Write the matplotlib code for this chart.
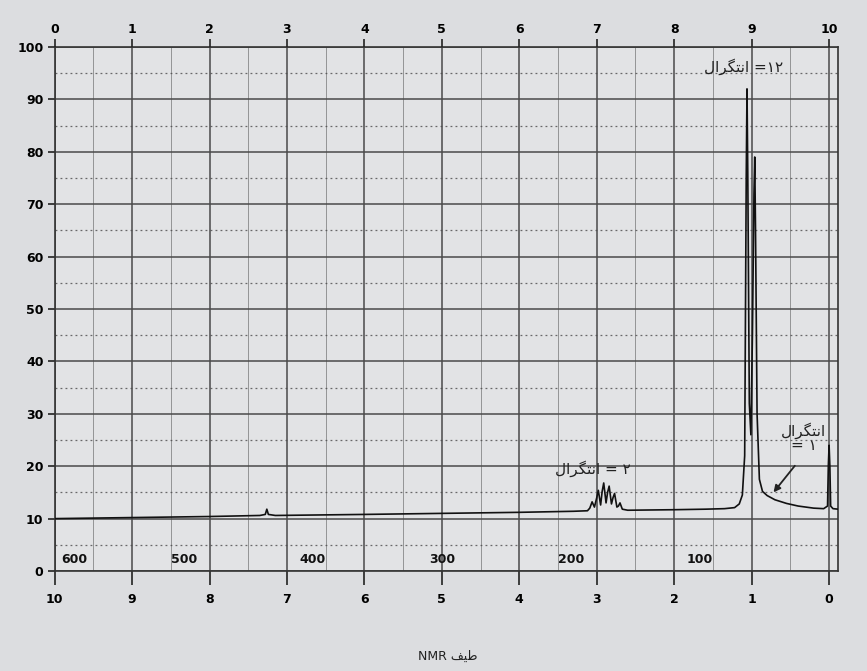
import numpy as np
import matplotlib
matplotlib.use('Agg')
import matplotlib.pyplot as plt

# ========================
# data
# ========================
ppm = [10.0, 9.0, 8.0, 7.35, 7.28, 7.26, 7.24, 7.15, 6.0, 5.0, 4.0, 3.3, 3.12,
       3.09, 3.06, 3.03, 3.00, 2.98, 2.95, 2.93, 2.91, 2.88, 2.86, 2.84, 2.81,
       2.79, 2.77, 2.74, 2.72, 2.70, 2.67, 2.6, 2.0, 1.6, 1.35, 1.22, 1.16,
       1.12, 1.09, 1.07, 1.06, 1.05, 1.03, 1.01, 0.99, 0.97, 0.96, 0.95, 0.93,
       0.90, 0.86, 0.80, 0.70, 0.55, 0.40, 0.20, 0.07, 0.02, 0.01, 0.0,
       -0.01, -0.02, -0.05, -0.12]
intensity = [10.0, 10.2, 10.4, 10.6, 10.8, 11.8, 10.8, 10.6, 10.8, 11.0, 11.2,
             11.4, 11.5, 12.0, 13.2, 12.2, 14.0, 15.4, 12.6, 15.2, 16.8, 13.0,
             15.0, 16.2, 12.8, 14.0, 14.8, 12.2, 12.4, 13.0, 11.8, 11.6, 11.7,
             11.8, 11.9, 12.1, 12.8, 14.5, 22.0, 75.0, 92.0, 76.0, 32.0, 26.0,
             45.0, 72.0, 79.0, 65.0, 30.0, 17.5, 15.2, 14.4, 13.6, 12.9, 12.4,
             12.0, 11.9, 12.4, 20.0, 24.0, 20.0, 12.4, 11.9, 11.8]

y_ticks = [0, 10, 20, 30, 40, 50, 60, 70, 80, 90, 100]
ppm_ticks = [10, 9, 8, 7, 6, 5, 4, 3, 2, 1, 0]
top_labels = ['0', '1', '2', '3', '4', '5', '6', '7', '8', '9', '10']
hz_labels = [600, 500, 400, 300, 200, 100]
SPECTROMETER_MHZ = 60

# Persian labels written in visual order with presentation forms
WORD = "\uFEDD\uFE8D\uFEAE\uFB95\uFE98\uFEE7\uFE8D"   # انتگرال
label_12 = WORD + " =\u06F1\u06F2"
label_2 = WORD + " = \u06F2"
label_1 = WORD + "\n= \u06F1"
caption = "NMR " + "\uFED2\uFEF4\uFEC3"              # طیف NMR

BG = '#dcdde0'
GRID = '#4a4a4a'

fig = plt.figure(figsize=(8.67, 6.71), dpi=100, facecolor=BG)
ax = fig.add_axes([0.063, 0.149, 0.904, 0.781], facecolor='#e2e3e5')

ax.set_xlim(10, -0.12)
ax.set_ylim(0, 100)

# chart paper grid
for p in ppm_ticks:
    ax.axvline(p, color=GRID, lw=1.1, zorder=1)
for p in np.arange(9.5, 0, -1.0):
    ax.axvline(p, color=GRID, lw=0.6, alpha=0.6, zorder=1)
for yv in y_ticks:
    ax.axhline(yv, color=GRID, lw=1.1, zorder=1)
for yv in np.arange(5, 100, 10):
    ax.axhline(yv, color=GRID, lw=0.9, ls=(0, (1.5, 2.5)), alpha=0.8, zorder=1)

# spectrum trace
ax.plot(ppm, intensity, color='#111111', lw=1.2, zorder=3)

# axes ticks
ax.set_xticks(ppm_ticks)
ax.set_xticklabels([str(p) for p in ppm_ticks], fontsize=9, fontweight='bold')
ax.set_yticks(y_ticks)
ax.set_yticklabels([str(v) for v in y_ticks], fontsize=9, fontweight='bold')
ax.tick_params(axis='y', length=5, width=1.2, color='#222222', pad=3)
ax.tick_params(axis='x', length=10, width=1.2, color='#222222', pad=6)
for s in ax.spines.values():
    s.set_color('#333333')
    s.set_linewidth(1.2)

ax2 = ax.twiny()
ax2.set_xlim(ax.get_xlim())
ax2.set_xticks(ppm_ticks)
ax2.set_xticklabels(top_labels, fontsize=9, fontweight='bold')
ax2.tick_params(axis='x', length=6, width=1.2, color='#222222', pad=2)
for s in ax2.spines.values():
    s.set_visible(False)

# Hz scale printed inside the paper
for i, hz in enumerate(hz_labels):
    xp = hz / SPECTROMETER_MHZ
    ax.text(xp - 0.08 if i == 0 else xp, 1.0, str(hz), ha='left' if i == 0 else 'center',
            va='bottom', fontsize=9, fontweight='bold', color='#111111', zorder=4)

# integral annotations
ax.text(1.1, 96.3, label_12, ha='center', va='center', fontsize=11,
        family=['DejaVu Sans'], color='#222222', zorder=4)
ax.text(3.05, 19.5, label_2, ha='center', va='center', fontsize=11,
        family=['DejaVu Sans'], color='#222222', zorder=4)
ax.text(0.33, 25.5, label_1, ha='center', va='center', fontsize=11,
        family=['DejaVu Sans'], color='#222222', linespacing=0.9, zorder=4)
ax.annotate('', xy=(0.74, 14.6), xytext=(0.42, 20.5),
            arrowprops=dict(arrowstyle='-|>', color='#222222', lw=1.3), zorder=4)

fig.text(0.517, 0.022, caption, ha='center', va='center', fontsize=9,
         family=['DejaVu Sans'], color='#222222')

plt.savefig('out.png', dpi=100, facecolor=BG)
plt.close()
